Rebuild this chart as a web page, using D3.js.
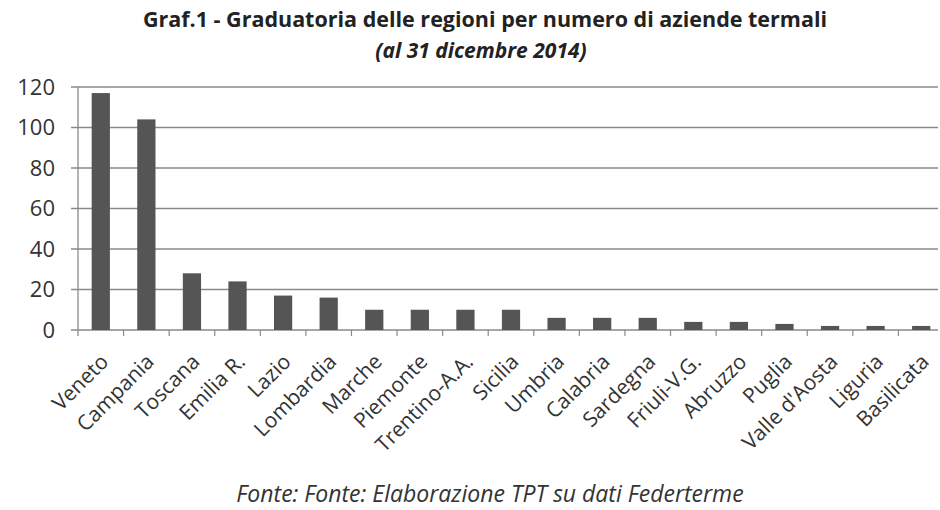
<!DOCTYPE html>
<html><head><meta charset="utf-8">
<script src="https://cdn.jsdelivr.net/npm/d3@7"></script>
<style>body{margin:0;background:#fff}svg{display:block}</style>
</head><body>
<svg id="c" width="940" height="510"></svg>
<script>
const categories = ["Veneto","Campania","Toscana","Emilia R.","Lazio","Lombardia","Marche","Piemonte","Trentino-A.A.","Sicilia","Umbria","Calabria","Sardegna","Friuli-V.G.","Abruzzo","Puglia","Valle d'Aosta","Liguria","Basilicata"];
const values = [117,104,28,24,17,16,10,10,10,10,6,6,6,4,4,3,2,2,2];
const yTicks = [0,20,40,60,80,100,120];
const titleLine1 = "Graf.1 - Graduatoria delle regioni per numero di aziende termali";
const titleLine2 = "(al 31 dicembre 2014)";
const source = "Fonte: Fonte: Elaborazione TPT su dati Federterme";

const svg = d3.select("#c");
const font = "'Open Sans', sans-serif";
const m = {l:78, r:944, t:87, b:330};
const x = d3.scaleBand().domain(categories).range([m.l, m.r]).paddingInner(0.6).paddingOuter(0.3);
const y = d3.scaleLinear().domain([0,120]).range([m.b, m.t]);

// gridlines
svg.append("g").selectAll("line").data(yTicks).join("line")
  .attr("x1", m.l-7).attr("x2", 938).attr("y1", d=>y(d)).attr("y2", d=>y(d))
  .attr("stroke", "#8a8a8a").attr("stroke-width", 1.4);
// y axis line
svg.append("line").attr("x1", m.l).attr("x2", m.l).attr("y1", m.t).attr("y2", m.b+6)
  .attr("stroke", "#8a8a8a").attr("stroke-width", 1.3);
// y labels
svg.append("g").selectAll("text").data(yTicks).join("text")
  .attr("x", 55).attr("y", d=>y(d)).attr("dy", "0.36em").attr("text-anchor","end")
  .attr("font-family", font).attr("font-size", 22).attr("fill","#333").text(d=>d);

// x category tick marks (band boundaries)
svg.append("g").selectAll("line").data(categories).join("line")
  .attr("x1", d => x(d) + x.bandwidth() + x.step()*x.paddingInner()/2)
  .attr("x2", d => x(d) + x.bandwidth() + x.step()*x.paddingInner()/2)
  .attr("y1", m.b).attr("y2", m.b+6).attr("stroke","#8a8a8a").attr("stroke-width",1.2);

// bars
svg.append("g").selectAll("rect").data(values).join("rect")
  .attr("x", (d,i)=>x(categories[i])).attr("width", x.bandwidth())
  .attr("y", d=>y(d)).attr("height", d=>y(0)-y(d))
  .attr("fill", "#555555");

// x labels
svg.append("g").selectAll("text").data(categories).join("text")
  .attr("transform", d=>`translate(${x(d)+x.bandwidth()/2+9},${m.b+33}) rotate(-45)`)
  .attr("text-anchor","end").attr("font-family", font).attr("font-size", 21).attr("fill","#333")
  .text(d=>d);

// titles
svg.append("text").attr("x", 485).attr("y", 27).attr("text-anchor","middle")
  .attr("font-family", font).attr("font-weight","bold").attr("font-size", 21.5).attr("fill","#222").text(titleLine1);
svg.append("text").attr("x", 481).attr("y", 58).attr("text-anchor","middle")
  .attr("font-family", font).attr("font-weight","bold").attr("font-style","italic").attr("font-size", 21).attr("fill","#222").text(titleLine2);
svg.append("text").attr("x", 490).attr("y", 502).attr("text-anchor","middle")
  .attr("font-family", font).attr("font-style","italic").attr("font-size", 23).attr("fill","#333").text(source);
</script>
</body></html>
